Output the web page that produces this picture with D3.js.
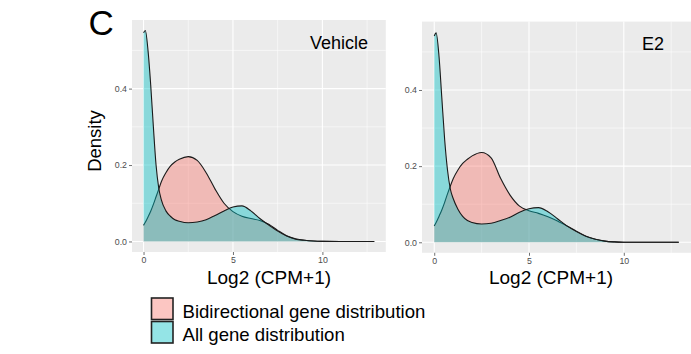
<!DOCTYPE html>
<html>
<head>
<meta charset="utf-8">
<script src="https://cdn.jsdelivr.net/npm/d3@7"></script>
<style>
  html, body { margin: 0; padding: 0; background: #fff; }
  svg { display: block; }
  text { font-family: "Liberation Sans", Arial, Helvetica, sans-serif; }
</style>
</head>
<body>
<svg id="chart" width="691" height="354"></svg>
<script>
// Log2(CPM+1) evaluation points shared by every density curve
const xGrid = [0, 0.1, 0.25, 0.4, 0.55, 0.7, 0.85, 1.0, 1.25, 1.5, 1.75, 2, 2.5, 3, 3.5,
               4, 4.5, 5, 5.5, 6, 6.5, 7, 7.5, 8, 8.5, 9, 9.5, 10, 11, 12, 12.9];

// Vehicle: density of bidirectional genes and of all genes
const vehicleBidirectional = [0.042, 0.05, 0.064, 0.079, 0.097, 0.117, 0.137, 0.157, 0.18, 0.197, 0.208,
  0.215, 0.222, 0.212, 0.18, 0.137, 0.1, 0.078, 0.066, 0.06, 0.055, 0.045, 0.029, 0.015, 0.007,
  0.003, 0.001, 0.0003, 0, 0, 0];
const vehicleAll = [0.546, 0.552, 0.50, 0.41, 0.30, 0.20, 0.14, 0.108, 0.08, 0.066, 0.057,
  0.053, 0.049, 0.051, 0.057, 0.068, 0.08, 0.09, 0.093, 0.08, 0.06, 0.043, 0.027, 0.014, 0.006,
  0.003, 0.001, 0.0003, 0, 0, 0];

// E2: density of bidirectional genes and of all genes
const e2Bidirectional = [0.043, 0.052, 0.068, 0.085, 0.105, 0.127, 0.148, 0.167, 0.19, 0.207, 0.218,
  0.227, 0.236, 0.222, 0.168, 0.124, 0.095, 0.083, 0.076, 0.067, 0.056, 0.043, 0.029, 0.016, 0.008,
  0.003, 0.001, 0.0003, 0, 0, 0];
const e2All = [0.542, 0.55, 0.49, 0.38, 0.27, 0.19, 0.14, 0.115, 0.087, 0.068, 0.057,
  0.052, 0.048, 0.05, 0.057, 0.066, 0.079, 0.088, 0.091, 0.08, 0.062, 0.043, 0.028, 0.016, 0.008,
  0.003, 0.001, 0.0003, 0, 0, 0];

const panelTitles = ["Vehicle", "E2"];
const xTicks = [0, 5, 10];
const xMinorTicks = [2.5, 7.5, 12.5];
const yTicks = [0, 0.2, 0.4];
const yMinorTicks = [0.1, 0.3, 0.5];
const legendLabels = ["Bidirectional gene distribution", "All gene distribution"];
const xTitle = "Log2 (CPM+1)";
const yTitle = "Density";
const figureLetter = "C";

const seriesColors = ["#F8766D", "#00BFC4"];
const fillAlpha = 0.42;
const panelBg = "#EBEBEB";

const panels = [
  { title: panelTitles[0], series: [vehicleBidirectional, vehicleAll],
    left: 132, right: 385.8, top: 20, bottom: 252, titleX: 368, xTitleX: 269 },
  { title: panelTitles[1], series: [e2Bidirectional, e2All],
    left: 422, right: 691, top: 21.6, bottom: 252.8, titleX: 664, xTitleX: 551 }
];

const svg = d3.select("#chart");

// ggplot-style 5% expansion of the data range
const xExt = d3.extent(xGrid);
const xPad = (xExt[1] - xExt[0]) * 0.05;
const yMax = d3.max(panels.flatMap(p => p.series.flat()));
const yPad = yMax * 0.05;

panels.forEach((p, pi) => {
  const x = d3.scaleLinear().domain([xExt[0] - xPad, xExt[1] + xPad]).range([p.left, p.right]);
  const y = d3.scaleLinear().domain([-yPad, yMax + yPad]).range([p.bottom, p.top]);
  const g = svg.append("g");

  // panel background
  g.append("rect")
    .attr("x", p.left).attr("y", p.top)
    .attr("width", p.right - p.left).attr("height", p.bottom - p.top)
    .attr("fill", panelBg);

  // minor grid
  g.selectAll(".vminor").data(xMinorTicks).join("line")
    .attr("x1", d => x(d)).attr("x2", d => x(d))
    .attr("y1", p.top).attr("y2", p.bottom)
    .attr("stroke", "#fff").attr("stroke-width", 0.55);
  g.selectAll(".hminor").data(yMinorTicks).join("line")
    .attr("x1", p.left).attr("x2", p.right)
    .attr("y1", d => y(d)).attr("y2", d => y(d))
    .attr("stroke", "#fff").attr("stroke-width", 0.55);
  // major grid
  g.selectAll(".vmajor").data(xTicks).join("line")
    .attr("x1", d => x(d)).attr("x2", d => x(d))
    .attr("y1", p.top).attr("y2", p.bottom)
    .attr("stroke", "#fff").attr("stroke-width", 1.1);
  g.selectAll(".hmajor").data(yTicks).join("line")
    .attr("x1", p.left).attr("x2", p.right)
    .attr("y1", d => y(d)).attr("y2", d => y(d))
    .attr("stroke", "#fff").attr("stroke-width", 1.1);

  // density areas: bidirectional first, all genes on top
  const area = d3.area().x((d, i) => x(xGrid[i])).y0(y(0)).y1(d => y(d)).curve(d3.curveMonotoneX);
  const line = d3.line().x((d, i) => x(xGrid[i])).y(d => y(d)).curve(d3.curveMonotoneX);
  p.series.forEach((vals, si) => {
    g.append("path").attr("d", area(vals))
      .attr("fill", seriesColors[si]).attr("fill-opacity", fillAlpha);
    g.append("path").attr("d", line(vals))
      .attr("fill", "none").attr("stroke", "#1a1a1a").attr("stroke-width", 1.1);
  });

  // axes
  const xAxis = d3.axisBottom(x).tickValues(xTicks).tickSize(3).tickPadding(2).tickFormat(d3.format("d"));
  const yAxis = d3.axisLeft(y).tickValues(yTicks).tickSize(3).tickPadding(2).tickFormat(d3.format(".1f"));
  const gx = g.append("g").attr("transform", `translate(0,${p.bottom})`).call(xAxis);
  const gy = g.append("g").attr("transform", `translate(${p.left},0)`).call(yAxis);
  [gx, gy].forEach(a => {
    a.select(".domain").remove();
    a.selectAll(".tick line").attr("stroke", "#4D4D4D").attr("stroke-width", 0.8);
    a.selectAll(".tick text").attr("fill", "#4D4D4D").attr("font-size", 8.8)
      .attr("font-family", "Liberation Sans, Arial, sans-serif");
  });

  // panel label
  g.append("text").attr("x", p.titleX).attr("y", p.top + 28.5)
    .attr("text-anchor", "end").attr("font-size", 18).attr("fill", "#000").text(p.title);

  // x axis title
  g.append("text").attr("x", p.xTitleX).attr("y", 283.5)
    .attr("text-anchor", "middle").attr("font-size", 19).attr("fill", "#000").text(xTitle);
});

// y axis title
svg.append("text")
  .attr("transform", "translate(101,141) rotate(-90)")
  .attr("text-anchor", "middle").attr("font-size", 18.5).attr("fill", "#000").text(yTitle);

// figure letter
svg.append("text").attr("x", 88.5).attr("y", 35)
  .attr("font-size", 35).attr("fill", "#000").text(figureLetter);

// legend
const legend = svg.append("g");
legendLabels.forEach((lab, i) => {
  const top = 298 + i * 23.5;
  legend.append("rect").attr("x", 151.5).attr("y", top).attr("width", 21.5).attr("height", 21.5)
    .attr("fill", "#fff").attr("stroke", "none");
  legend.append("rect").attr("x", 151.5).attr("y", top).attr("width", 21.5).attr("height", 21.5)
    .attr("fill", seriesColors[i]).attr("fill-opacity", fillAlpha)
    .attr("stroke", "#222").attr("stroke-width", 1.6);
  legend.append("text").attr("x", 182.5).attr("y", top + 19.5)
    .attr("font-size", 18.6).attr("fill", "#000").text(lab);
});
</script>
</body>
</html>
